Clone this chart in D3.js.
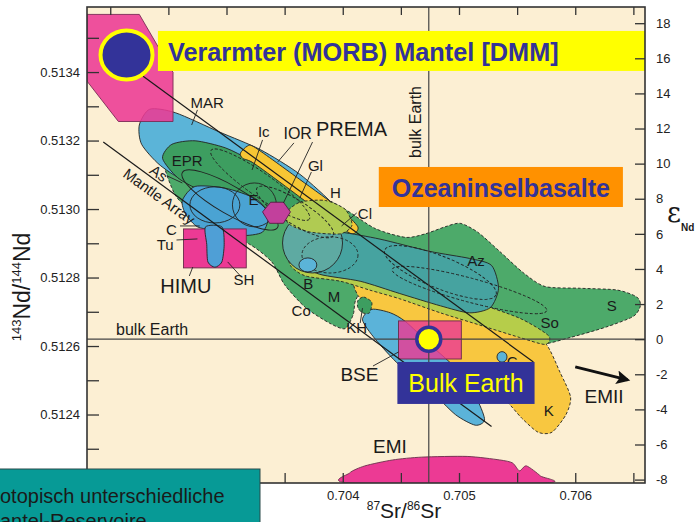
<!DOCTYPE html>
<html><head><meta charset="utf-8">
<script src="https://cdn.jsdelivr.net/npm/d3@7"></script>
<style>
html,body{margin:0;padding:0;background:#fff;}
svg{display:block;font-family:"Liberation Sans",Arial,sans-serif;}
</style></head><body>
<svg id="chart" width="696" height="522"></svg>
<script>
// ---------- axes / reference values ----------
const srDomain = [0.7018, 0.7066];
const ndDomain = [0.5122, 0.51359];
const chur = 0.51262;                       // 143Nd/144Nd of bulk Earth (εNd = 0)
const bulkSr = 0.70474;                     // 87Sr/86Sr of bulk Earth
const srTicks = [0.702,0.7025,0.703,0.7035,0.704,0.7045,0.705,0.7055,0.706,0.7065];
const srTickLabels = [0.704,0.705,0.706];
const ndTicks = [0.5123,0.5124,0.5125,0.5126,0.5127,0.5128,0.5129,0.5130,0.5131,0.5132,0.5133,0.5134,0.5135];
const ndTickLabels = [0.5124,0.5126,0.5128,0.5130,0.5132,0.5134];
const epsTicks = [-8,-6,-4,-2,0,2,4,6,8,10,12,14,16,18];

// ---------- reservoir fields: [87Sr/86Sr, εNd] ----------
const dmmField = [[0.70180,18.5],[0.70225,18.5],[0.70254,15.2],[0.70254,12.4],[0.70207,12.4],[0.70180,14.7]];
const oibEnvelope = [[0.70245,10.2],[0.70251,10.9],[0.70269,11.2],[0.70303,10.7],[0.70337,9.8],[0.70372,8.5],[0.70402,7.4],[0.70428,6.3],[0.70454,5.8],[0.70471,6.0],[0.70488,6.4],[0.70501,6.6],[0.70516,6.1],[0.70535,5.0],[0.70555,3.8],[0.70574,3.0],[0.70604,2.9],[0.70636,2.8],[0.70653,2.4],[0.70656,1.9],[0.70650,1.3],[0.70627,0.7],[0.70596,0.1],[0.70570,-0.3],[0.70544,0.0],[0.70509,0.8],[0.70475,1.7],[0.70445,2.2],[0.70419,2.8],[0.70411,2.2],[0.70409,1.4],[0.70402,0.6],[0.70389,0.9],[0.70368,1.8],[0.70350,3.1],[0.70339,4.4],[0.70320,5.4],[0.70294,6.1],[0.70273,7.1],[0.70256,8.2]];
const marField = [[0.70225,12.2],[0.70234,13.1],[0.70256,12.9],[0.70294,11.8],[0.70329,10.8],[0.70363,9.4],[0.70393,7.6],[0.70402,6.5],[0.70380,6.3],[0.70346,7.1],[0.70303,7.9],[0.70269,8.8],[0.70243,9.9],[0.70227,11.1]];
const eprField = [[0.70245,10.3],[0.70253,11.1],[0.70273,11.3],[0.70299,10.9],[0.70320,10.2],[0.70342,9.2],[0.70363,8.2],[0.70389,7.4],[0.70398,6.7],[0.70380,6.5],[0.70355,7.1],[0.70329,7.5],[0.70303,7.9],[0.70277,8.5],[0.70258,9.2]];
const ceField = [[0.70262,7.9],[0.70273,8.7],[0.70299,8.6],[0.70325,8.0],[0.70336,7.1],[0.70331,6.1],[0.70312,5.9],[0.70290,6.2],[0.70275,6.4],[0.70265,7.1]];
const iorField = [[0.70312,10.6],[0.70318,11.0],[0.70325,10.9],[0.70363,9.1],[0.70398,7.4],[0.70413,6.4],[0.70408,6.0],[0.70393,6.6],[0.70359,8.3],[0.70324,10.0],[0.70314,10.3]];
const glField = [[0.70350,7.1],[0.70363,7.8],[0.70385,7.9],[0.70402,7.4],[0.70408,6.5],[0.70398,6.0],[0.70372,6.1],[0.70355,6.5]];
const kField = [[0.70411,3.4],[0.70449,2.7],[0.70484,1.9],[0.70518,1.2],[0.70552,0.5],[0.70574,-0.2],[0.70587,-1.9],[0.70596,-3.3],[0.70592,-4.3],[0.70580,-5.3],[0.70568,-5.3],[0.70554,-4.5],[0.70540,-3.5],[0.70518,-2.6],[0.70497,-1.8],[0.70475,-0.7],[0.70449,0.5],[0.70428,1.5],[0.70413,2.5]];
const soField = [[0.70355,5.1],[0.70389,4.6],[0.70423,4.1],[0.70466,3.1],[0.70509,2.2],[0.70552,1.2],[0.70577,0.2],[0.70574,-0.3],[0.70552,0.1],[0.70518,0.8],[0.70484,1.5],[0.70449,2.3],[0.70423,2.8],[0.70398,3.3],[0.70368,3.6],[0.70355,4.2]];
const azField = [[0.70363,6.3],[0.70398,6.1],[0.70432,5.7],[0.70475,5.0],[0.70509,4.6],[0.70528,4.2],[0.70534,2.9],[0.70527,1.8],[0.70509,1.5],[0.70484,1.9],[0.70449,2.6],[0.70415,3.3],[0.70380,3.7],[0.70363,4.4]];
const khField = [[0.70417,1.1],[0.70425,1.7],[0.70441,1.5],[0.70454,1.0],[0.70475,-0.3],[0.70501,-1.9],[0.70516,-3.5],[0.70522,-4.6],[0.70514,-4.9],[0.70497,-4.3],[0.70475,-2.9],[0.70449,-1.5],[0.70428,0.0]];
const khIsland = [[0.70413,2.2],[0.70418,2.4],[0.70425,2.1],[0.70423,1.5],[0.70417,1.5],[0.70413,1.8]];
const shField = [[0.70282,6.4],[0.70296,6.4],[0.70298,5.4],[0.70296,4.4],[0.70290,4.1],[0.70284,4.4],[0.70283,5.4]];
const premaField = [[0.70331,7.25],[0.70338,7.8],[0.70349,7.8],[0.70355,7.25],[0.70349,6.6],[0.70337,6.6]];
const emiField = [[0.70406,-8.19],[0.70406,-7.62],[0.70419,-7.22],[0.70443,-6.88],[0.70468,-6.72],[0.70507,-6.68],[0.70535,-6.88],[0.70546,-7.05],[0.70552,-7.5],[0.70558,-7.22],[0.70570,-7.79],[0.70574,-8.19]];
const himuBox = {sr:[0.70263,0.70317], eps:[4.06,6.28]};
const bseBox  = {sr:[0.70448,0.70502], eps:[-1.13,1.04]};
// [Sr, εNd, radius Sr, radius εNd]
const tealDisc = [0.70374,5.48,0.000258,1.71];
const smallBlobs = [
  {c:[0.70370,4.23,0.000077,0.40], fill:"#5BB4D8"},   // B
  {c:[0.70537,-1.01,0.000043,0.30], fill:"#5BB4D8"},  // C
  {c:[0.70278,5.71,0.000034,0.25], fill:"#3D9E60"}    // Tu
];
// outline-only fields: [Sr, εNd, radius Sr, radius εNd, tilt°, dashed]
const outlines = [
  [0.70303,7.93,0.000473,0.80,30,false],
  [0.70324,7.65,0.000189,1.25,0,false],
  [0.70290,7.65,0.000215,1.03,0,false],
  [0.70359,7.25,0.000387,0.68,32,true],
  [0.70329,8.80,0.000516,0.68,35,true],
  [0.70389,4.80,0.000241,1.03,0,true],
  [0.70484,3.80,0.000516,0.91,22,true],
  [0.70509,2.80,0.000688,0.68,15,true]
];
// straight lines
const upperLine   = [[0.70228,14.99],[0.70564,-1.30]];
const mantleArray = [[0.70194,11.23],[0.70528,-4.98]];
const emiiArrow   = [[0.70600,-1.58],[0.70645,-2.32]];
// point markers
const dmmPoint  = [0.70214,16.19];
const bulkPoint = [bulkSr,0];

// labels: [text, Sr, εNd, size, rotate]
const labels = [
  ["MAR",0.70269,13.17,15,0],["Ic",0.70327,11.52,15,0],["IOR",0.70349,11.40,16,0],
  ["PREMA",0.70377,11.58,20,0],["Gl",0.70370,9.58,15,0],["H",0.70389,8.04,15,0],
  ["Cl",0.70413,6.85,15,0],["E",0.70319,7.65,15,0],["EPR",0.70253,9.87,15,0],
  ["As",0.70233,9.50,15,36],["Mantle Array",0.70210,9.30,15,36],
  ["C",0.70248,5.93,15,0],["Tu",0.70240,5.08,15,0],["SH",0.70306,3.09,15,0],
  ["HIMU",0.70243,2.63,20,0],["B",0.70366,2.85,15,0],["M",0.70387,2.12,15,0],
  ["Co",0.70356,1.32,15,0],["KH",0.70403,0.35,15,0],["Az",0.70507,4.17,15,0],
  ["So",0.70570,0.63,15,0],["S",0.70627,1.61,15,0],["K",0.70573,-4.37,15,0],
  ["C",0.70541,-1.60,15,0],
  ["BSE",0.70398,-2.38,19,0],["EMII",0.70608,-3.63,19,0],["EMI",0.70426,-6.47,19,0],
  ["bulk Earth",0.70205,0.24,16,0],["bulk Earth",0.70467,10.32,16,-90]
];
// leader lines: [[Sr,ε],[Sr,ε]]
const leaders = [
  [[0.70275,13.06],[0.70270,12.20]],[[0.70331,11.35],[0.70322,9.64]],
  [[0.70358,11.18],[0.70344,10.09]],[[0.70374,11.23],[0.70349,7.76]],
  [[0.70373,9.52],[0.70363,8.04]],[[0.70412,7.19],[0.70399,6.45]],
  [[0.70249,9.30],[0.70262,8.90]],[[0.70260,6.45],[0.70277,6.45]],
  [[0.70257,5.65],[0.70275,5.71]],[[0.70301,4.40],[0.70312,3.60]],
  [[0.70271,4.11],[0.70268,3.60]],[[0.70415,0.92],[0.70417,1.77]],
  [[0.70426,-1.53],[0.70448,-0.73]]
];
// annotation boxes: [Sr0,Sr1,ε top, ε bottom]
const dmmBox  = [0.70241,0.7066,17.56,15.28];
const oibBox  = [0.70431,0.70641,9.81,7.53];
const bulkBox = [0.70447,0.70565,-1.30,-3.69];

// ---------- scales ----------
const eps = nd => (nd/chur - 1)*1e4;
const L=87,R=645,T=7,B=483;
const x = d3.scaleLinear().domain(srDomain).range([L,R]);
const yNd = d3.scaleLinear().domain(ndDomain).range([B,T]);
const y = d3.scaleLinear().domain(ndDomain.map(eps)).range([B,T]);

const svg = d3.select("#chart");
const defs = svg.append("defs");
defs.append("clipPath").attr("id","pc").append("rect").attr("x",L).attr("y",T).attr("width",R-L).attr("height",B-T);
defs.append("marker").attr("id","arr").attr("viewBox","0 0 10 10").attr("refX",8).attr("refY",5)
  .attr("markerWidth",5.5).attr("markerHeight",4.6).attr("orient","auto")
  .append("path").attr("d","M0,0 L10,5 L0,10 L2,5 z").attr("fill","#111");

svg.append("rect").attr("width",696).attr("height",522).attr("fill","#fff");
svg.append("rect").attr("x",L).attr("y",T).attr("width",R-L).attr("height",B-T).attr("fill","#FCEFD3");

const g = svg.append("g").attr("clip-path","url(#pc)");
const smooth = d3.line().x(d=>x(d[0])).y(d=>y(d[1])).curve(d3.curveCardinalClosed.tension(0.25));
const poly = d3.line().x(d=>x(d[0])).y(d=>y(d[1])).curve(d3.curveLinearClosed);
function field(data, fill, o={}) {
  g.append("path").attr("d",(o.poly?poly:smooth)(data)).attr("fill",fill)
   .attr("fill-opacity",o.op==null?1:o.op).attr("stroke",o.stroke||"#222")
   .attr("stroke-width",o.sw||0.9).attr("stroke-dasharray",o.dash?"3,2":null);
}
function ellipse(e, fill, o={}) {
  const cx=x(e[0]), cy=y(e[1]), rx=x(e[0]+e[2])-cx, ry=cy-y(e[1]+e[3]);
  g.append("ellipse").attr("cx",cx).attr("cy",cy).attr("rx",rx).attr("ry",ry)
   .attr("transform",`rotate(${e[4]||0},${cx},${cy})`).attr("fill",fill)
   .attr("stroke",o.stroke||"#222").attr("stroke-width",o.sw||0.9)
   .attr("stroke-dasharray",o.dash?"3,2":null);
}
function box(b, fill, o={}) {
  g.append("rect").attr("x",x(b.sr[0])).attr("y",y(b.eps[1])).attr("width",x(b.sr[1])-x(b.sr[0]))
   .attr("height",y(b.eps[0])-y(b.eps[1])).attr("fill",fill).attr("fill-opacity",o.op==null?1:o.op)
   .attr("stroke","#6a2a4a").attr("stroke-width",0.9);
}

// fields, back to front
field(oibEnvelope,"#4DAA6A",{dash:true});
field(marField,"#5BB4D8");
field(dmmField,"#EC3A94",{poly:true,op:0.88,stroke:"#7a2a55"});
field(eprField,"#3D9E60");
field(ceField,"#4AA3D3");
field(iorField,"#F7C634");
field(kField,"#F8C740",{dash:true});
field(soField,"#B6CD4A",{dash:true});
field(azField,"#46A3A0");
ellipse([tealDisc[0],tealDisc[1],tealDisc[2],tealDisc[3],0],"#5EAAA2");
field(glField,"#B0CB52",{dash:true});
field(khField,"#5BB3D9");
field(khIsland,"#3D9E60",{dash:true});
outlines.forEach(e=>ellipse(e,"none",{dash:e[5]}));
smallBlobs.forEach(b=>ellipse([...b.c,0],b.fill));
box(himuBox,"#EC3A94");
field(shField,"#4F9FD6");
field(premaField,"#C2409C",{poly:true,stroke:"#5a1a45"});
box(bseBox,"#EC3A94",{op:0.82});
field(emiField,"#EC3A94",{stroke:"#6a2a4a"});

// lines
const seg = d3.line().x(d=>x(d[0])).y(d=>y(d[1]));
[upperLine,mantleArray].forEach(l=>g.append("path").attr("d",seg(l)).attr("stroke","#1a1a1a").attr("stroke-width",1.2).attr("fill","none"));
leaders.forEach(l=>g.append("path").attr("d",seg(l)).attr("stroke","#222").attr("stroke-width",0.9).attr("fill","none"));
g.append("path").attr("d",seg(emiiArrow)).attr("stroke","#111").attr("stroke-width",3).attr("fill","none").attr("marker-end","url(#arr)");

// bulk Earth reference lines
g.append("line").attr("x1",L).attr("x2",R).attr("y1",y(0)).attr("y2",y(0)).attr("stroke","#444").attr("stroke-width",1.2);
g.append("line").attr("x1",x(bulkSr)).attr("x2",x(bulkSr)).attr("y1",T).attr("y2",B).attr("stroke","#444").attr("stroke-width",1.2);

// labels
labels.forEach(([t,sr,e,s,r])=>{
  const px=x(sr), py=y(e);
  g.append("text").attr("x",px).attr("y",py).attr("font-size",s).attr("fill","#1a1a1a")
   .attr("transform",r?`rotate(${r},${px},${py})`:null).text(t);
});

// annotation boxes
function annBox(bx, fill) {
  const x0=x(bx[0]), x1=x(bx[1]), y0=y(bx[2]), y1=y(bx[3]);
  svg.append("rect").attr("x",x0).attr("y",y0).attr("width",x1-x0).attr("height",y1-y0).attr("fill",fill);
  return [x0,y0,x1,y1];
}
let b1 = annBox(dmmBox,"#FFFF00");
svg.append("text").attr("x",b1[0]+10).attr("y",b1[1]+30).attr("font-size",25.3).attr("font-weight","bold").attr("fill","#333399").text("Verarmter (MORB) Mantel [DMM]");
let b2 = annBox(oibBox,"#FF9100");
svg.append("text").attr("x",(b2[0]+b2[2])/2).attr("y",b2[1]+30).attr("text-anchor","middle").attr("font-size",25).attr("font-weight","bold").attr("fill","#333399").text("Ozeaninselbasalte");
let b3 = annBox(bulkBox,"#333399");
svg.append("text").attr("x",(b3[0]+b3[2])/2).attr("y",b3[1]+30).attr("text-anchor","middle").attr("font-size",25).attr("fill","#FFFF00").text("Bulk Earth");

// point markers
svg.append("ellipse").attr("cx",x(dmmPoint[0])).attr("cy",y(dmmPoint[1])).attr("rx",26).attr("ry",24.5)
  .attr("fill","#333399").attr("stroke","#FFFF00").attr("stroke-width",4);
svg.append("circle").attr("cx",x(bulkPoint[0])).attr("cy",y(bulkPoint[1])).attr("r",12)
  .attr("fill","#FFFF00").attr("stroke","#333399").attr("stroke-width",3.5);

// axes
function styleAxis(sel){ sel.select(".domain").remove();
  sel.selectAll(".tick line").attr("stroke","#333").attr("stroke-width",1.3);
  sel.selectAll(".tick text").attr("font-size",13).attr("fill","#222")
    .attr("font-family","'Liberation Sans',Arial,sans-serif"); }
const near = (arr,v)=>arr.some(a=>Math.abs(a-v)<1e-9);
svg.append("g").attr("transform",`translate(${L},0)`)
  .call(d3.axisLeft(yNd).tickValues(ndTicks).tickSize(-12).tickPadding(7).tickFormat(d=>near(ndTickLabels,d)?d.toFixed(4):""))
  .call(styleAxis);
svg.append("g").attr("transform",`translate(${R},0)`)
  .call(d3.axisRight(y).tickValues(epsTicks).tickSize(-10).tickPadding(11).tickFormat(d=>String(d)))
  .call(styleAxis);
svg.append("g").attr("transform",`translate(0,${T})`)
  .call(d3.axisTop(x).tickValues(srTicks).tickSize(-8).tickFormat(""))
  .call(styleAxis);
svg.append("g").attr("transform",`translate(0,${B})`)
  .call(d3.axisBottom(x).tickValues(srTicks).tickSize(-10).tickPadding(8).tickFormat(d=>near(srTickLabels,d)?d.toFixed(3):""))
  .call(styleAxis);
svg.append("rect").attr("x",L).attr("y",T).attr("width",R-L).attr("height",B-T).attr("fill","none").attr("stroke","#333").attr("stroke-width",1.6);

// axis titles
const xt = svg.append("text").attr("x",(L+R)/2+38).attr("y",518).attr("text-anchor","middle").attr("font-size",21).attr("fill","#1a1a1a");
xt.append("tspan").attr("font-size",12).attr("dy",-8).text("87");
xt.append("tspan").attr("dy",8).text("Sr/");
xt.append("tspan").attr("font-size",12).attr("dy",-8).text("86");
xt.append("tspan").attr("dy",8).text("Sr");
const yt = svg.append("text").attr("transform","translate(30,287) rotate(-90)").attr("text-anchor","middle").attr("font-size",23).attr("fill","#1a1a1a");
yt.append("tspan").attr("font-size",13).attr("dy",-9).text("143");
yt.append("tspan").attr("dy",9).text("Nd/");
yt.append("tspan").attr("font-size",13).attr("dy",-9).text("144");
yt.append("tspan").attr("dy",9).text("Nd");
svg.append("text").attr("x",667).attr("y",222).attr("font-size",27).attr("font-family","'DejaVu Serif',serif").attr("fill","#1a1a1a").text("ε");
svg.append("text").attr("x",681).attr("y",231).attr("font-size",10).attr("font-weight","bold").attr("fill","#1a1a1a").text("Nd");

// teal caption box (slide overlay)
svg.append("rect").attr("x",-2).attr("y",469).attr("width",262).attr("height",60).attr("fill","#079A96").attr("stroke","#2a4a4a").attr("stroke-width",1);
svg.append("text").attr("x",-15.6).attr("y",503).attr("font-size",20).attr("fill","#1a1a1a").text("Isotopisch unterschiedliche");
svg.append("text").attr("x",-16.7).attr("y",528).attr("font-size",20).attr("fill","#1a1a1a").text("Mantel-Reservoire");
</script></body></html>
